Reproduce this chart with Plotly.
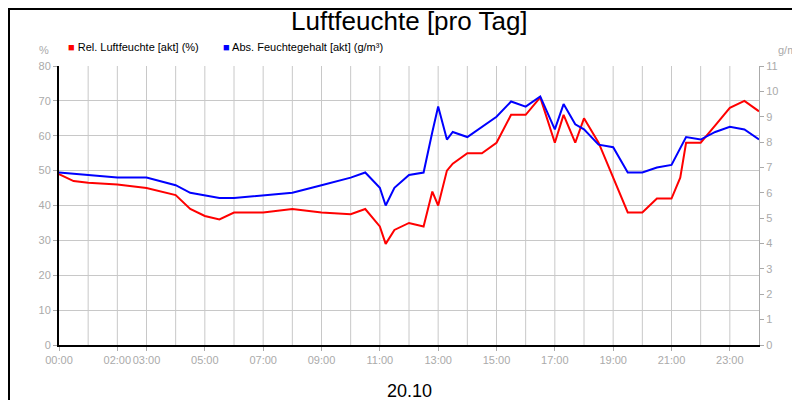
import plotly.graph_objects as go

hours = [0,0.5,1,2,3,4,4.5,5,5.5,6,7,8,9,10,10.5,11,11.2,11.5,12,12.5,12.8,13,13.3,13.5,14,14.5,15,15.5,16,16.5,17,17.3,17.7,18,18.5,19,19.5,20,20.5,21,21.3,21.5,22,22.5,23,23.5,24]
rel = [49,47,46.5,46,45,43,39,37,36,38,38,39,38,37.5,39,34,29,33,35,34,44,40,50,52,55,55,58,66,66,71,58,66,58,65,58,48,38,38,42,42,48,58,58,63,68,70,67]
absh = [6.8,6.75,6.7,6.6,6.6,6.3,6.0,5.9,5.8,5.8,5.9,6.0,6.3,6.6,6.8,6.2,5.5,6.2,6.7,6.8,8.4,9.4,8.1,8.4,8.2,8.6,9.0,9.6,9.4,9.8,8.5,9.5,8.7,8.5,7.9,7.8,6.8,6.8,7.0,7.1,7.8,8.2,8.1,8.4,8.6,8.5,8.1]
tick_vals = [0,2,3,5,7,9,11,13,15,17,19,21,23]
tick_text = ["00:00","02:00","03:00","05:00","07:00","09:00","11:00","13:00","15:00","17:00","19:00","21:00","23:00"]
series_names = ["Rel. Luftfeuchte [akt] (%)", "Abs. Feuchtegehalt [akt] (g/m³)"]
series_colors = ["#ff0000", "#0000ff"]

grey = "#aaaaaa"
fig = go.Figure()
fig.add_trace(go.Scatter(x=hours, y=rel, name=series_names[0], mode="lines", line=dict(color=series_colors[0], width=2)))
fig.add_trace(go.Scatter(x=hours, y=absh, name=series_names[1], mode="lines", line=dict(color=series_colors[1], width=2), yaxis="y2"))
pw, ph = 700, 279
ann = [
    dict(text="20.10", xref="paper", yref="paper", x=0.5, y=-46/ph, showarrow=False, font=dict(size=18, color="black"), yanchor="middle"),
    dict(text="Luftfeuchte [pro Tag]", xref="paper", yref="paper", x=0.5, y=1+45/ph, showarrow=False, font=dict(size=26, color="black"), yanchor="middle"),
    dict(text="%", xref="paper", yref="paper", x=-8/pw, y=1+16/ph, showarrow=False, font=dict(size=11, color=grey), yanchor="middle", xanchor="right"),
    dict(text="g/m³", xref="paper", yref="paper", x=1+43/pw, y=1+16/ph, showarrow=False, font=dict(size=11, color=grey), yanchor="middle", xanchor="right"),
]
legx = [-(51-58)/pw, (213-51)/pw]
for i in range(2):
    ann.append(dict(text="<span style='color:%s'>■</span> %s" % (series_colors[i], series_names[i]), xref="paper", yref="paper",
                    x=legx[i], y=1+19/ph, showarrow=False, xanchor="left", yanchor="middle", font=dict(size=11, color="black")))
fig.update_layout(
    width=800, height=400, plot_bgcolor="white", paper_bgcolor="white",
    margin=dict(l=51, r=49, t=58, b=63, autoexpand=False),
    font=dict(family="Liberation Sans, Arial", size=11, color=grey),
    showlegend=False,
    xaxis=dict(range=[0,24], tickvals=tick_vals, ticktext=tick_text, showgrid=False, tickangle=0,
               showline=True, linecolor="black", linewidth=2, ticks="outside", ticklen=4, tickcolor=grey,
               zeroline=False, automargin=False),
    yaxis=dict(range=[0,80], dtick=10, gridcolor="#c8c8c8", showline=True, linecolor="black", linewidth=2,
               ticks="outside", ticklen=4, tickcolor=grey, zeroline=False, automargin=False),
    yaxis2=dict(range=[0,11], dtick=1, overlaying="y", side="right", showgrid=False, showline=True,
                linecolor=grey, ticks="outside", ticklen=4, tickcolor=grey, zeroline=False, automargin=False),
    shapes=[dict(type="rect", xref="paper", yref="paper", x0=-50/pw, x1=1+48/pw, y0=-62/ph, y1=1+57/ph,
                 line=dict(color="black", width=2))] +
           [dict(type="line", xref="x", yref="paper", x0=h, x1=h, y0=0, y1=1, layer="below",
                 line=dict(color="#c8c8c8", width=1)) for h in range(1,24)],
    annotations=ann,
)
fig.write_html("out.html")
